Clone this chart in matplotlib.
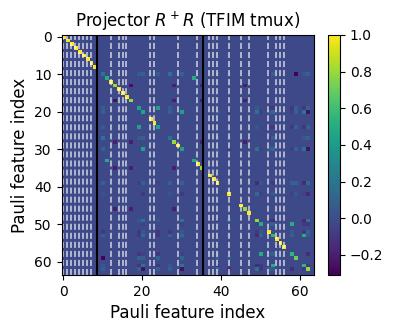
import matplotlib
matplotlib.use('Agg')
import matplotlib.pyplot as plt
import numpy as np

n = 64
background = -0.02

# diagonal of the projector
diag_idx = [0, 1, 2, 3, 4, 5, 6, 7, 8, 10, 11, 12, 13, 14, 15, 16, 17, 19, 20, 22, 23, 24, 27, 28, 29,
            30, 33, 34, 35, 37, 38, 39, 42, 45, 46, 47, 49, 50, 52, 53, 54, 55, 56, 58, 59, 61, 62]
diag_val = [1, 0.98, 1, 1, 1, 1, 1, 1, 1, 0.2, 0.5, 1, 0.8, 1, 1, 1, 0.8, 0.45, 0.45, 1, 1, 0.45, 0.2, 0.8, 1,
            0.45, 0.5, 1, 0.8, 1, 1, 1, 1, 1, 0.8, 1, 0.8, 0.5, 1, 0.55, 1, 1, 1, 0.55, 0.7, 0.55, 0.8]

# upper triangle entries, mirrored below
off_row = [10, 10, 11, 13, 13, 13, 13, 17, 17, 17, 28, 28, 19, 20,
           10, 10, 10, 10, 19, 19, 19, 19, 20, 20, 20, 20,
           10, 27, 10, 27, 10, 27, 10, 27, 10, 27, 10, 27,
           19, 24, 20, 30, 20, 30, 19, 24, 20, 30, 20, 30,
           19, 24, 20, 30, 19, 24, 20, 30, 19, 24, 20, 30,
           19, 24, 20, 30, 19, 24, 20, 30, 19, 24, 20, 30,
           39, 39, 39, 39, 39, 39, 39,
           42, 42, 42, 42, 42, 42, 42,
           49, 49, 49, 49, 49,
           50, 50, 50, 50, 50,
           53, 53, 53, 52, 52, 52, 58, 58, 61]
off_col = [27, 59, 33, 17, 28, 35, 46, 28, 35, 46, 35, 46, 24, 30,
           19, 20, 24, 30, 27, 27, 59, 59, 27, 27, 59, 59,
           39, 39, 42, 42, 52, 52, 53, 53, 61, 61, 62, 62,
           39, 39, 39, 39, 42, 42, 49, 49, 49, 49, 50, 50,
           52, 52, 52, 52, 53, 53, 53, 53, 58, 58, 58, 58,
           59, 59, 59, 59, 61, 61, 61, 61, 62, 62, 62, 62,
           49, 50, 53, 58, 59, 61, 62,
           49, 50, 53, 58, 59, 61, 62,
           50, 52, 53, 61, 62,
           52, 53, 58, 61, 62,
           58, 61, 62, 58, 61, 62, 61, 62, 62]
off_val = [0.2, -0.3, 0.5, -0.25, -0.2, -0.2, -0.2, -0.2, -0.2, -0.2, -0.2, -0.2, 0.45, 0.45,
           0.07, 0.1, 0.07, 0.1, 0.07, 0.07, 0.1, 0.1, 0.1, 0.1, 0.1, 0.1,
           0.1, 0.1, 0.03, 0.03, -0.1, -0.1, 0.1, 0.1, 0.05, 0.05, 0.1, 0.1,
           -0.05, -0.05, 0.1, 0.1, -0.1, -0.1, 0.05, 0.05, 0.2, 0.2, -0.05, -0.05,
           -0.1, -0.1, 0.05, 0.05, -0.1, -0.1, 0.15, 0.15, -0.1, -0.1, -0.05, -0.05,
           0.1, 0.1, 0.1, 0.1, -0.1, -0.1, 0.2, 0.2, 0.1, 0.1, -0.25, -0.25,
           -0.15, 0.05, -0.1, 0.1, 0.1, -0.15, 0.15,
           0.15, -0.05, 0.05, -0.05, 0.05, -0.05, -0.15,
           -0.05, -0.1, -0.15, -0.15, 0.2,
           0.05, 0.1, 0.5, -0.1, -0.1,
           0.1, 0.5, 0.05, 0.05, -0.1, 0.1, -0.03, -0.15, -0.1]

dashed_cols = [0, 1, 2, 3, 4, 5, 6, 7, 12, 14, 15, 16, 22, 23, 29, 34, 37, 38, 39, 42, 45, 47, 52, 54, 55, 56]
solid_cols = [8.5, 35.5]

R = np.full((n, n), background)
R[diag_idx, diag_idx] = diag_val
R[off_row, off_col] = off_val
R[off_col, off_row] = off_val

fig, ax = plt.subplots(figsize=(3.93, 3.32), dpi=100)
im = ax.imshow(R, cmap='viridis', vmin=-0.31, vmax=1.0, aspect='auto')
for c in dashed_cols:
    ax.axvline(c, color='white', ls=(0, (3.1, 1.55)), lw=1.4, alpha=0.6)
for c in solid_cols:
    ax.axvline(c, color='black', lw=1.5)
ax.set_xticks([0, 20, 40, 60])
ax.set_yticks([0, 10, 20, 30, 40, 50, 60])
ax.set_title('Projector $R^+R$ (TFIM tmux)', fontsize=12)
ax.set_xlabel('Pauli feature index', fontsize=12)
ax.set_ylabel('Pauli feature index', fontsize=12)
cb = fig.colorbar(im, ax=ax)
ax.set_position([61.5 / 393, 1 - 275 / 332, 252 / 393, 240 / 332])
cb.ax.set_position([328 / 393, 1 - 275 / 332, 12 / 393, 240 / 332])
fig.savefig('out.png', dpi=100)
